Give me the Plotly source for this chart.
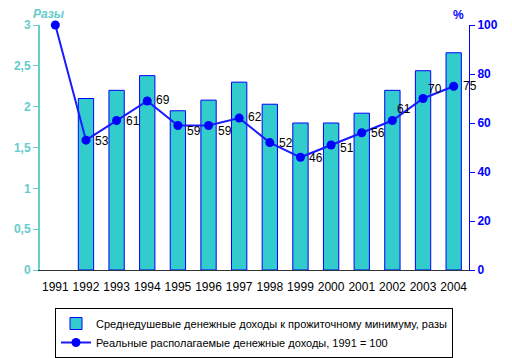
import plotly.graph_objects as go

years = [1991, 1992, 1993, 1994, 1995, 1996, 1997, 1998, 1999, 2000, 2001, 2002, 2003, 2004]
ratio = [None, 2.1, 2.2, 2.38, 1.95, 2.08, 2.3, 2.03, 1.8, 1.8, 1.92, 2.2, 2.44, 2.66]
real_income = [100, 53, 61, 69, 59, 59, 62, 52, 46, 51, 56, 61, 70, 75]
left_ticks = [0, 0.5, 1, 1.5, 2, 2.5, 3]
left_ticktext = ["0", "0,5", "1", "1,5", "2", "2,5", "3"]
right_ticks = [0, 20, 40, 60, 80, 100]

# label placement style (pixel shifts relative to each marker)
label_dx = [0, 7, 7, 7, 7, 7, 7, 7, 7, 7, 7, 3, 3, 7]
label_dy = [0, -1, 0, 1, -6, -6, 1, 0, -1, -3, 0, 12, 10, 0]

fig = go.Figure()
fig.add_trace(go.Bar(
    x=years, y=ratio, width=0.5,
    marker=dict(color="#33CCCC", line=dict(color="#0000FF", width=1)),
    name="Среднедушевые денежные доходы к прожиточному минимуму, разы",
    yaxis="y",
))
fig.add_trace(go.Scatter(
    x=years, y=real_income, mode="lines+markers",
    line=dict(color="#1A1AFF", width=2),
    marker=dict(color="#0000FF", size=9, symbol="circle"),
    name="Реальные располагаемые денежные доходы, 1991 = 100",
    yaxis="y2", cliponaxis=False,
))

# page has an 8px body margin, so figure is 504x350 and offsets are screen - 8
W, H = 504, 350
L, R, T, B = 32, 43, 17, 88
pw = W - L - R
ph = H - T - B


def px_x(sx):
    return (sx - 8 - L) / pw


def px_y(sy):
    return (H - B - (sy - 8)) / ph


annotations = [
    dict(text="<i><b>Разы</b></i>", x=px_x(49), y=px_y(14),
         xref="paper", yref="paper", showarrow=False, xanchor="center", yanchor="middle",
         font=dict(size=12, color="#66CCCC")),
    dict(text="<b>%</b>", x=px_x(458), y=px_y(15),
         xref="paper", yref="paper", showarrow=False, xanchor="center", yanchor="middle",
         font=dict(size=12, color="#0000FF")),
]
for i, (yr, v) in enumerate(zip(years, real_income)):
    if i == 0:
        continue
    annotations.append(dict(
        text=str(v), x=yr, y=v, xref="x", yref="y2", showarrow=False,
        xanchor="left", yanchor="middle", xshift=label_dx[i], yshift=label_dy[i],
        font=dict(family="Liberation Sans, Arial", size=12, color="#000000"),
    ))

fig.update_layout(
    width=W, height=H,
    margin=dict(l=L, r=R, t=T, b=B, autoexpand=False),
    paper_bgcolor="white", plot_bgcolor="white",
    font=dict(family="Liberation Sans, Arial", size=12, color="#000000"),
    showlegend=True,
    legend=dict(
        x=px_x(55), xanchor="left", y=px_y(308), yanchor="top",
        bordercolor="#000000", borderwidth=1, bgcolor="white",
        font=dict(size=11, color="#000000"),
        itemwidth=30, tracegroupgap=0,
    ),
    xaxis=dict(
        range=[1990.5, 2004.5], tickvals=years, ticktext=[str(y) for y in years],
        showgrid=False, zeroline=False, showline=True, linecolor="#333333", linewidth=1,
        ticks="outside", ticklen=6, tickcolor="rgba(0,0,0,0)",
        tickfont=dict(size=12, color="#000000"),
    ),
    yaxis=dict(
        range=[0, 3], tickvals=left_ticks, ticktext=left_ticktext,
        showgrid=False, zeroline=False, showline=True, linecolor="#66CCCC", linewidth=2,
        ticks="outside", ticklen=5, tickcolor="#66CCCC",
        tickfont=dict(size=12, color="#66CCCC", family="Liberation Sans, Arial", weight="bold"),
    ),
    yaxis2=dict(
        range=[0, 100], tickvals=right_ticks, overlaying="y", side="right",
        showgrid=False, zeroline=False, showline=True, linecolor="#0000FF", linewidth=1,
        ticks="outside", ticklen=5, tickcolor="#0000FF",
        tickfont=dict(size=12, color="#0000FF", family="Liberation Sans, Arial", weight="bold"),
    ),
    annotations=annotations,
    bargap=0.5,
)

fig.write_html("out.html")
